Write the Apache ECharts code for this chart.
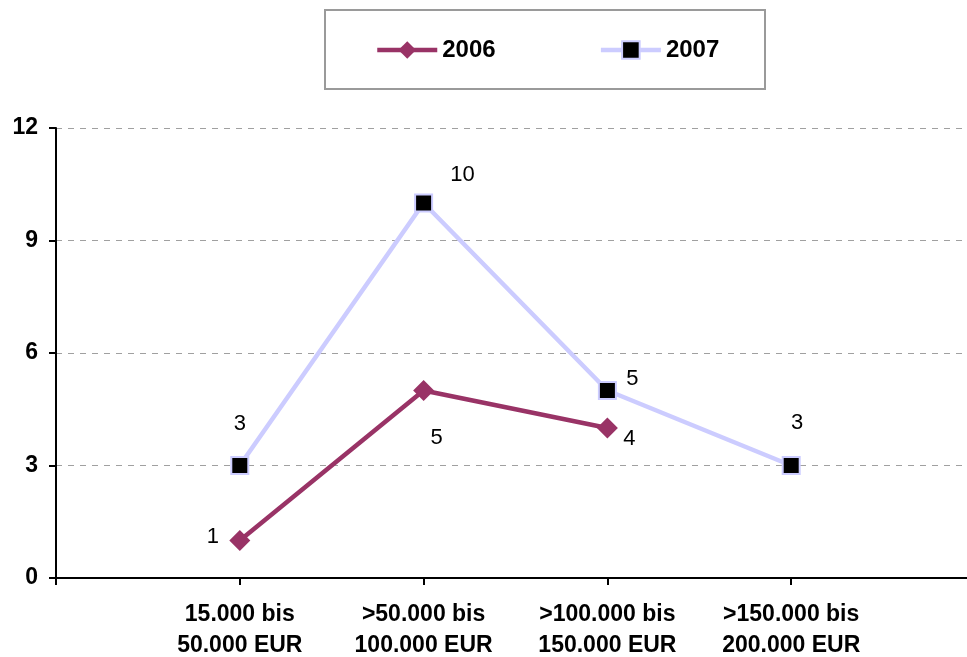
<!DOCTYPE html>
<html>
<head>
<meta charset="utf-8">
<script src="https://cdn.jsdelivr.net/npm/echarts@6/dist/echarts.min.js"></script>
<style>
  html, body { margin: 0; padding: 0; background: #fff; }
  #chart { width: 967px; height: 657px; }
</style>
</head>
<body>
<div id="chart"></div>
<script>
// Price bands on the x axis (blank slots pad both ends of the axis)
const categories = ['', '15.000 bis\n50.000 EUR', '>50.000 bis\n100.000 EUR', '>100.000 bis\n150.000 EUR', '>150.000 bis\n200.000 EUR', ''];
const values2006 = [null, 1, 5, 4, null, null];
const values2007 = [null, 3, 10, 5, 3, null];
const yTicks = [0, 3, 6, 9, 12];

// Label offsets (label centre relative to the marker), per point
const offsets2006 = [null, [-27, -4], [13, 47], [22, 11], null, null];
const offsets2007 = [null, [0, -42], [39, -28], [25, -12], [6, -43], null];

const FONT = '"Liberation Sans", Arial, sans-serif';

function withLabels(values, offsets) {
  return values.map((v, i) => v == null ? null : {
    value: v,
    label: { show: true, position: 'inside', offset: offsets[i] }
  });
}

const chart = echarts.init(document.getElementById('chart'), null, { renderer: 'canvas' });
chart.setOption({
  animation: false,
  backgroundColor: '#fff',
  textStyle: { fontFamily: FONT },
  grid: { left: 56, right: -8, top: 128, bottom: 79, containLabel: false, outerBoundsMode: 'none' },
  graphic: [{
    type: 'rect',
    shape: { x: 325, y: 10, width: 440, height: 79 },
    style: { fill: '#fff', stroke: '#9a9a9a', lineWidth: 2 },
    z: 0
  }],
  legend: {
    left: 370, top: 33,
    itemWidth: 60, itemHeight: 22, itemGap: 103,
    lineStyle: { width: 4.5 },
    textStyle: { fontFamily: FONT, fontSize: 24, fontWeight: 'bold', color: '#000' },
    data: ['2006', '2007']
  },
  xAxis: {
    type: 'category',
    data: categories,
    boundaryGap: false,
    axisLine: { lineStyle: { color: '#000', width: 2 } },
    axisTick: { show: true, length: 7, lineStyle: { color: '#000', width: 2 } },
    axisLabel: {
      interval: 0, margin: 21,
      fontFamily: FONT, fontSize: 23, fontWeight: 'bold', color: '#000', lineHeight: 31
    },
    splitLine: { show: false }
  },
  yAxis: {
    type: 'value',
    min: yTicks[0], max: yTicks[yTicks.length - 1], interval: 3,
    axisLine: { show: true, lineStyle: { color: '#000', width: 2 } },
    axisTick: { show: true, length: 7, lineStyle: { color: '#000', width: 2 } },
    axisLabel: { margin: 18, fontFamily: FONT, fontSize: 23, fontWeight: 'bold', color: '#000' },
    splitLine: { show: true, lineStyle: { color: '#a0a0a0', type: [6, 6], width: 1 } }
  },
  series: [
    {
      name: '2006',
      type: 'line',
      data: withLabels(values2006, offsets2006),
      connectNulls: false,
      symbol: 'diamond',
      symbolSize: 21,
      lineStyle: { color: '#993366', width: 4.5 },
      itemStyle: { color: '#993366', borderWidth: 0 },
      label: { fontFamily: FONT, fontSize: 22, color: '#000' },
      z: 3
    },
    {
      name: '2007',
      type: 'line',
      data: withLabels(values2007, offsets2007),
      symbol: 'rect',
      symbolSize: 17,
      lineStyle: { color: '#ccccff', width: 4.5 },
      itemStyle: { color: '#000', borderColor: '#ccccff', borderWidth: 2 },
      label: { fontFamily: FONT, fontSize: 22, color: '#000' },
      z: 2
    }
  ]
});
</script>
</body>
</html>
